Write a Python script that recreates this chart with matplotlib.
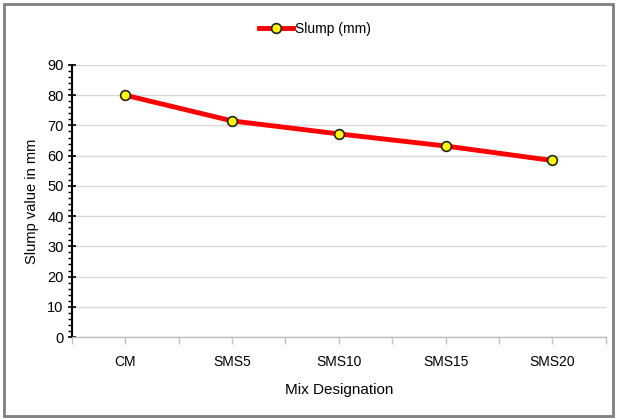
import matplotlib
matplotlib.use("Agg")
import matplotlib.pyplot as plt
from matplotlib.patches import Rectangle
from matplotlib.ticker import MultipleLocator, FixedLocator

plt.rcParams['font.family'] = ['Liberation Sans Narrow', 'Liberation Sans', 'DejaVu Sans']

mixes = ["CM", "SMS5", "SMS10", "SMS15", "SMS20"]
slump = [80, 71.5, 67.2, 63.2, 58.4]

fig = plt.figure(figsize=(6.17, 4.19), dpi=100)
ax = fig.add_axes([0.1167, 0.1957, 0.865, 0.6492])

xs = list(range(len(mixes)))
ax.plot(xs, slump, color="#ff0000", lw=3.5, marker="o", ms=7,
        mfc="#ffff00", mec="#222222", mew=1.2, label="Slump (mm)")

ax.set_xlim(-0.5, len(mixes) - 0.5)
ax.set_ylim(0, 90)
ax.yaxis.set_major_locator(MultipleLocator(10))
ax.yaxis.set_minor_locator(MultipleLocator(2))
ax.grid(axis="y", color="#d9d9d9", lw=1)
ax.set_axisbelow(True)

# category labels at centres, tick marks at boundaries
ax.xaxis.set_major_locator(FixedLocator([x - 0.5 for x in range(len(mixes) + 1)]))
ax.xaxis.set_minor_locator(FixedLocator(xs))
ax.set_xticks(xs, mixes, minor=True)
ax.set_xticklabels([""] * (len(mixes) + 1))
ax.tick_params(axis="x", which="both", color="#bfbfbf", length=5, width=1, labelsize=10, pad=8)
ax.tick_params(axis="y", which="major", direction="inout", length=6, width=1.2, labelsize=10.5, pad=3)
ax.tick_params(axis="y", which="minor", direction="out", length=3, width=1)

for s in ["top", "right"]:
    ax.spines[s].set_visible(False)
ax.spines["left"].set_linewidth(1.5)
ax.spines["bottom"].set_color("#bfbfbf")
ax.spines["bottom"].set_linewidth(1)

ax.set_ylabel("Slump value in mm", fontsize=10.5, labelpad=6)
ax.set_xlabel("Mix Designation", fontsize=11, labelpad=10)

fig.legend(loc="center", bbox_to_anchor=(0.51, 0.93), frameon=False, fontsize=10,
           handlelength=2.5, handletextpad=0.1)

fig.patches.append(Rectangle((0.006, 0.006), 0.988, 0.985, transform=fig.transFigure,
                             fill=False, edgecolor="#7f7f7f", lw=2))

fig.savefig("out.png", dpi=100)
